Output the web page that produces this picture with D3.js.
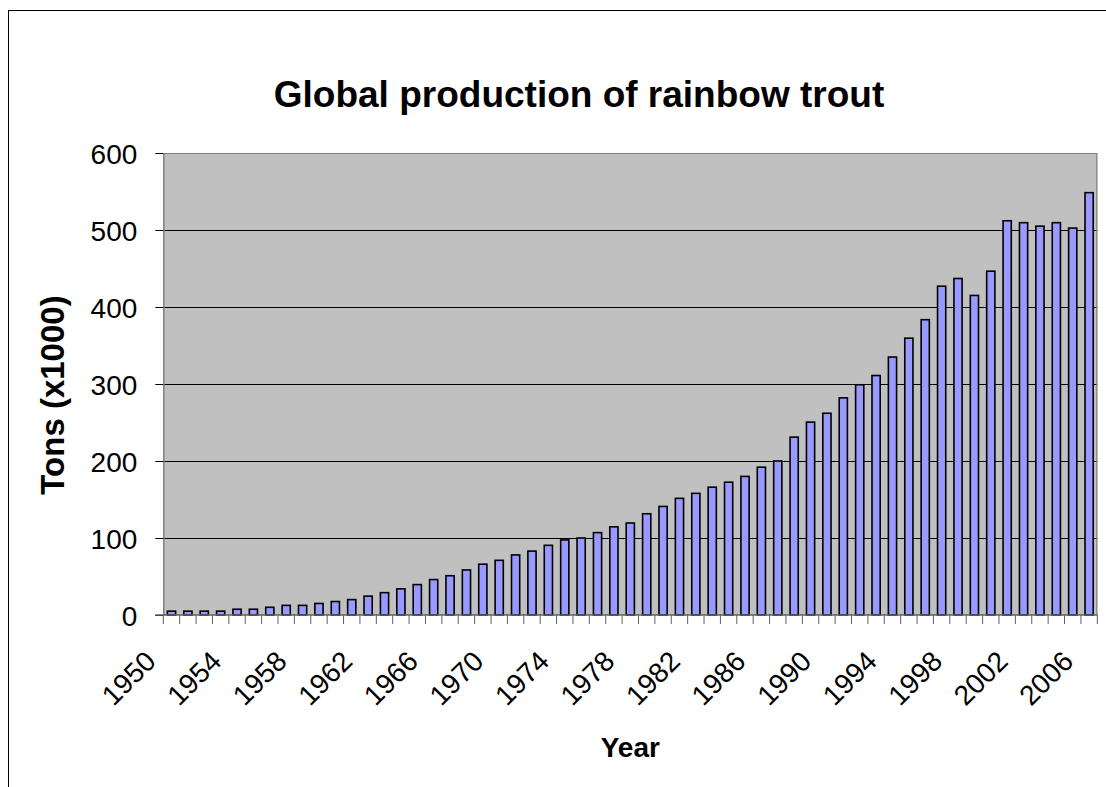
<!DOCTYPE html>
<html>
<head>
<meta charset="utf-8">
<script src="https://cdn.jsdelivr.net/npm/d3@7"></script>
<style>
  html, body { margin: 0; padding: 0; background: #ffffff; }
  svg { display: block; }
  text { font-family: "Liberation Sans", Arial, sans-serif; fill: #000; }
</style>
</head>
<body>
<svg id="chart" width="1106" height="787"></svg>
<script>
// Rainbow trout production, thousands of tons, 1950–2006
const years = d3.range(1950, 2007);
const production = [
  5, 5, 5, 5, 7.5, 7.5, 10, 12.5, 12.5, 15,
  17.5, 20, 24.5, 29, 34, 39.5, 46, 51, 58.5, 66,
  71, 78, 83, 90.5, 97.5, 100, 107, 114.5, 119.5, 131.5,
  141, 151.5, 158, 166, 172.5, 180, 192, 200, 231, 250.5,
  262, 282, 299, 311, 335, 359.5, 383.5, 427, 437, 415,
  446.5, 512, 509.5, 505, 509.5, 502.5, 548.5
];
const yTicks = [0, 100, 200, 300, 400, 500, 600];
const xLabelYears = d3.range(1950, 2007, 4);

const titleText = "Global production of rainbow trout";
const xTitle = "Year";
const yTitle = "Tons (x1000)";

const svg = d3.select("#chart");
const plot = { left: 163.3, right: 1097.3, top: 153, bottom: 615 };

// outer chart frame (runs past the right and bottom edges)
svg.append("rect")
  .attr("x", 8.5).attr("y", 10.5)
  .attr("width", 1200).attr("height", 1000)
  .attr("fill", "#ffffff").attr("stroke", "#000").attr("stroke-width", 1);

const x = d3.scaleBand()
  .domain(years)
  .range([plot.left, plot.right])
  .paddingInner(0.5)
  .paddingOuter(0.25);

const y = d3.scaleLinear()
  .domain([0, 600])
  .range([plot.bottom, plot.top]);

// plot background
svg.append("rect")
  .attr("x", plot.left).attr("y", plot.top)
  .attr("width", plot.right - plot.left)
  .attr("height", plot.bottom - plot.top)
  .attr("fill", "#c0c0c0");

// horizontal gridlines
svg.append("g").selectAll("line")
  .data(yTicks.filter(d => d > 0 && d < 600))
  .join("line")
  .attr("x1", plot.left).attr("x2", plot.right)
  .attr("y1", d => Math.round(y(d)) + 0.5)
  .attr("y2", d => Math.round(y(d)) + 0.5)
  .attr("stroke", "#000").attr("stroke-width", 1);

// plot border (top/right)
svg.append("path")
  .attr("d", `M${plot.left},${plot.top + 0.5}H${plot.right - 0.5}V${plot.bottom}`)
  .attr("fill", "none").attr("stroke", "#808080").attr("stroke-width", 1.2);

// bars
svg.append("g").selectAll("rect")
  .data(years.map((yr, i) => ({ yr, v: production[i] })))
  .join("rect")
  .attr("x", d => x(d.yr))
  .attr("width", x.bandwidth())
  .attr("y", d => y(d.v))
  .attr("height", d => y(0) - y(d.v))
  .attr("fill", "#9999ff")
  .attr("stroke", "#000")
  .attr("stroke-width", 1.6);

// y axis
const yAxis = svg.append("g")
  .attr("transform", `translate(${plot.left},0)`)
  .call(d3.axisLeft(y).tickValues(yTicks).tickSize(8).tickSizeOuter(0)
    .tickPadding(18).tickFormat(d3.format("d")));
yAxis.select(".domain").attr("stroke", "#808080").attr("stroke-width", 1.5);
yAxis.selectAll(".tick line").attr("stroke", "#000");
yAxis.selectAll(".tick text")
  .style("font-family", "'Liberation Sans', Arial, sans-serif")
  .style("font-size", "28px")
  .attr("fill", "#000")
  .attr("dy", "0.36em");

// x axis line and category boundary ticks
const step = x.step();
const gap = step - x.bandwidth();
const boundaries = years.map(yr => x(yr) - gap / 2).concat([plot.right]);
svg.append("line")
  .attr("x1", plot.left - 8).attr("x2", plot.right)
  .attr("y1", plot.bottom).attr("y2", plot.bottom)
  .attr("stroke", "#606060").attr("stroke-width", 1.5);
svg.append("g").selectAll("line")
  .data(boundaries)
  .join("line")
  .attr("x1", d => d).attr("x2", d => d)
  .attr("y1", plot.bottom).attr("y2", plot.bottom + 9)
  .attr("stroke", "#606060").attr("stroke-width", 1);

// rotated year labels
svg.append("g").selectAll("text")
  .data(xLabelYears)
  .join("text")
  .attr("transform", d => `translate(${x(d) + x.bandwidth() / 2 - 14},663) rotate(-45)`)
  .attr("text-anchor", "end")
  .style("font-size", "28px")
  .text(d => d);

// titles
svg.append("text")
  .attr("x", 579).attr("y", 107)
  .attr("text-anchor", "middle")
  .style("font-size", "37px").style("font-weight", "bold")
  .text(titleText);

svg.append("text")
  .attr("x", (plot.left + plot.right) / 2).attr("y", 757)
  .attr("text-anchor", "middle")
  .style("font-size", "28px").style("font-weight", "bold")
  .text(xTitle);

svg.append("text")
  .attr("transform", `translate(64,395) rotate(-90)`)
  .attr("text-anchor", "middle")
  .style("font-size", "33px").style("font-weight", "bold")
  .text(yTitle);
</script>
</body>
</html>
